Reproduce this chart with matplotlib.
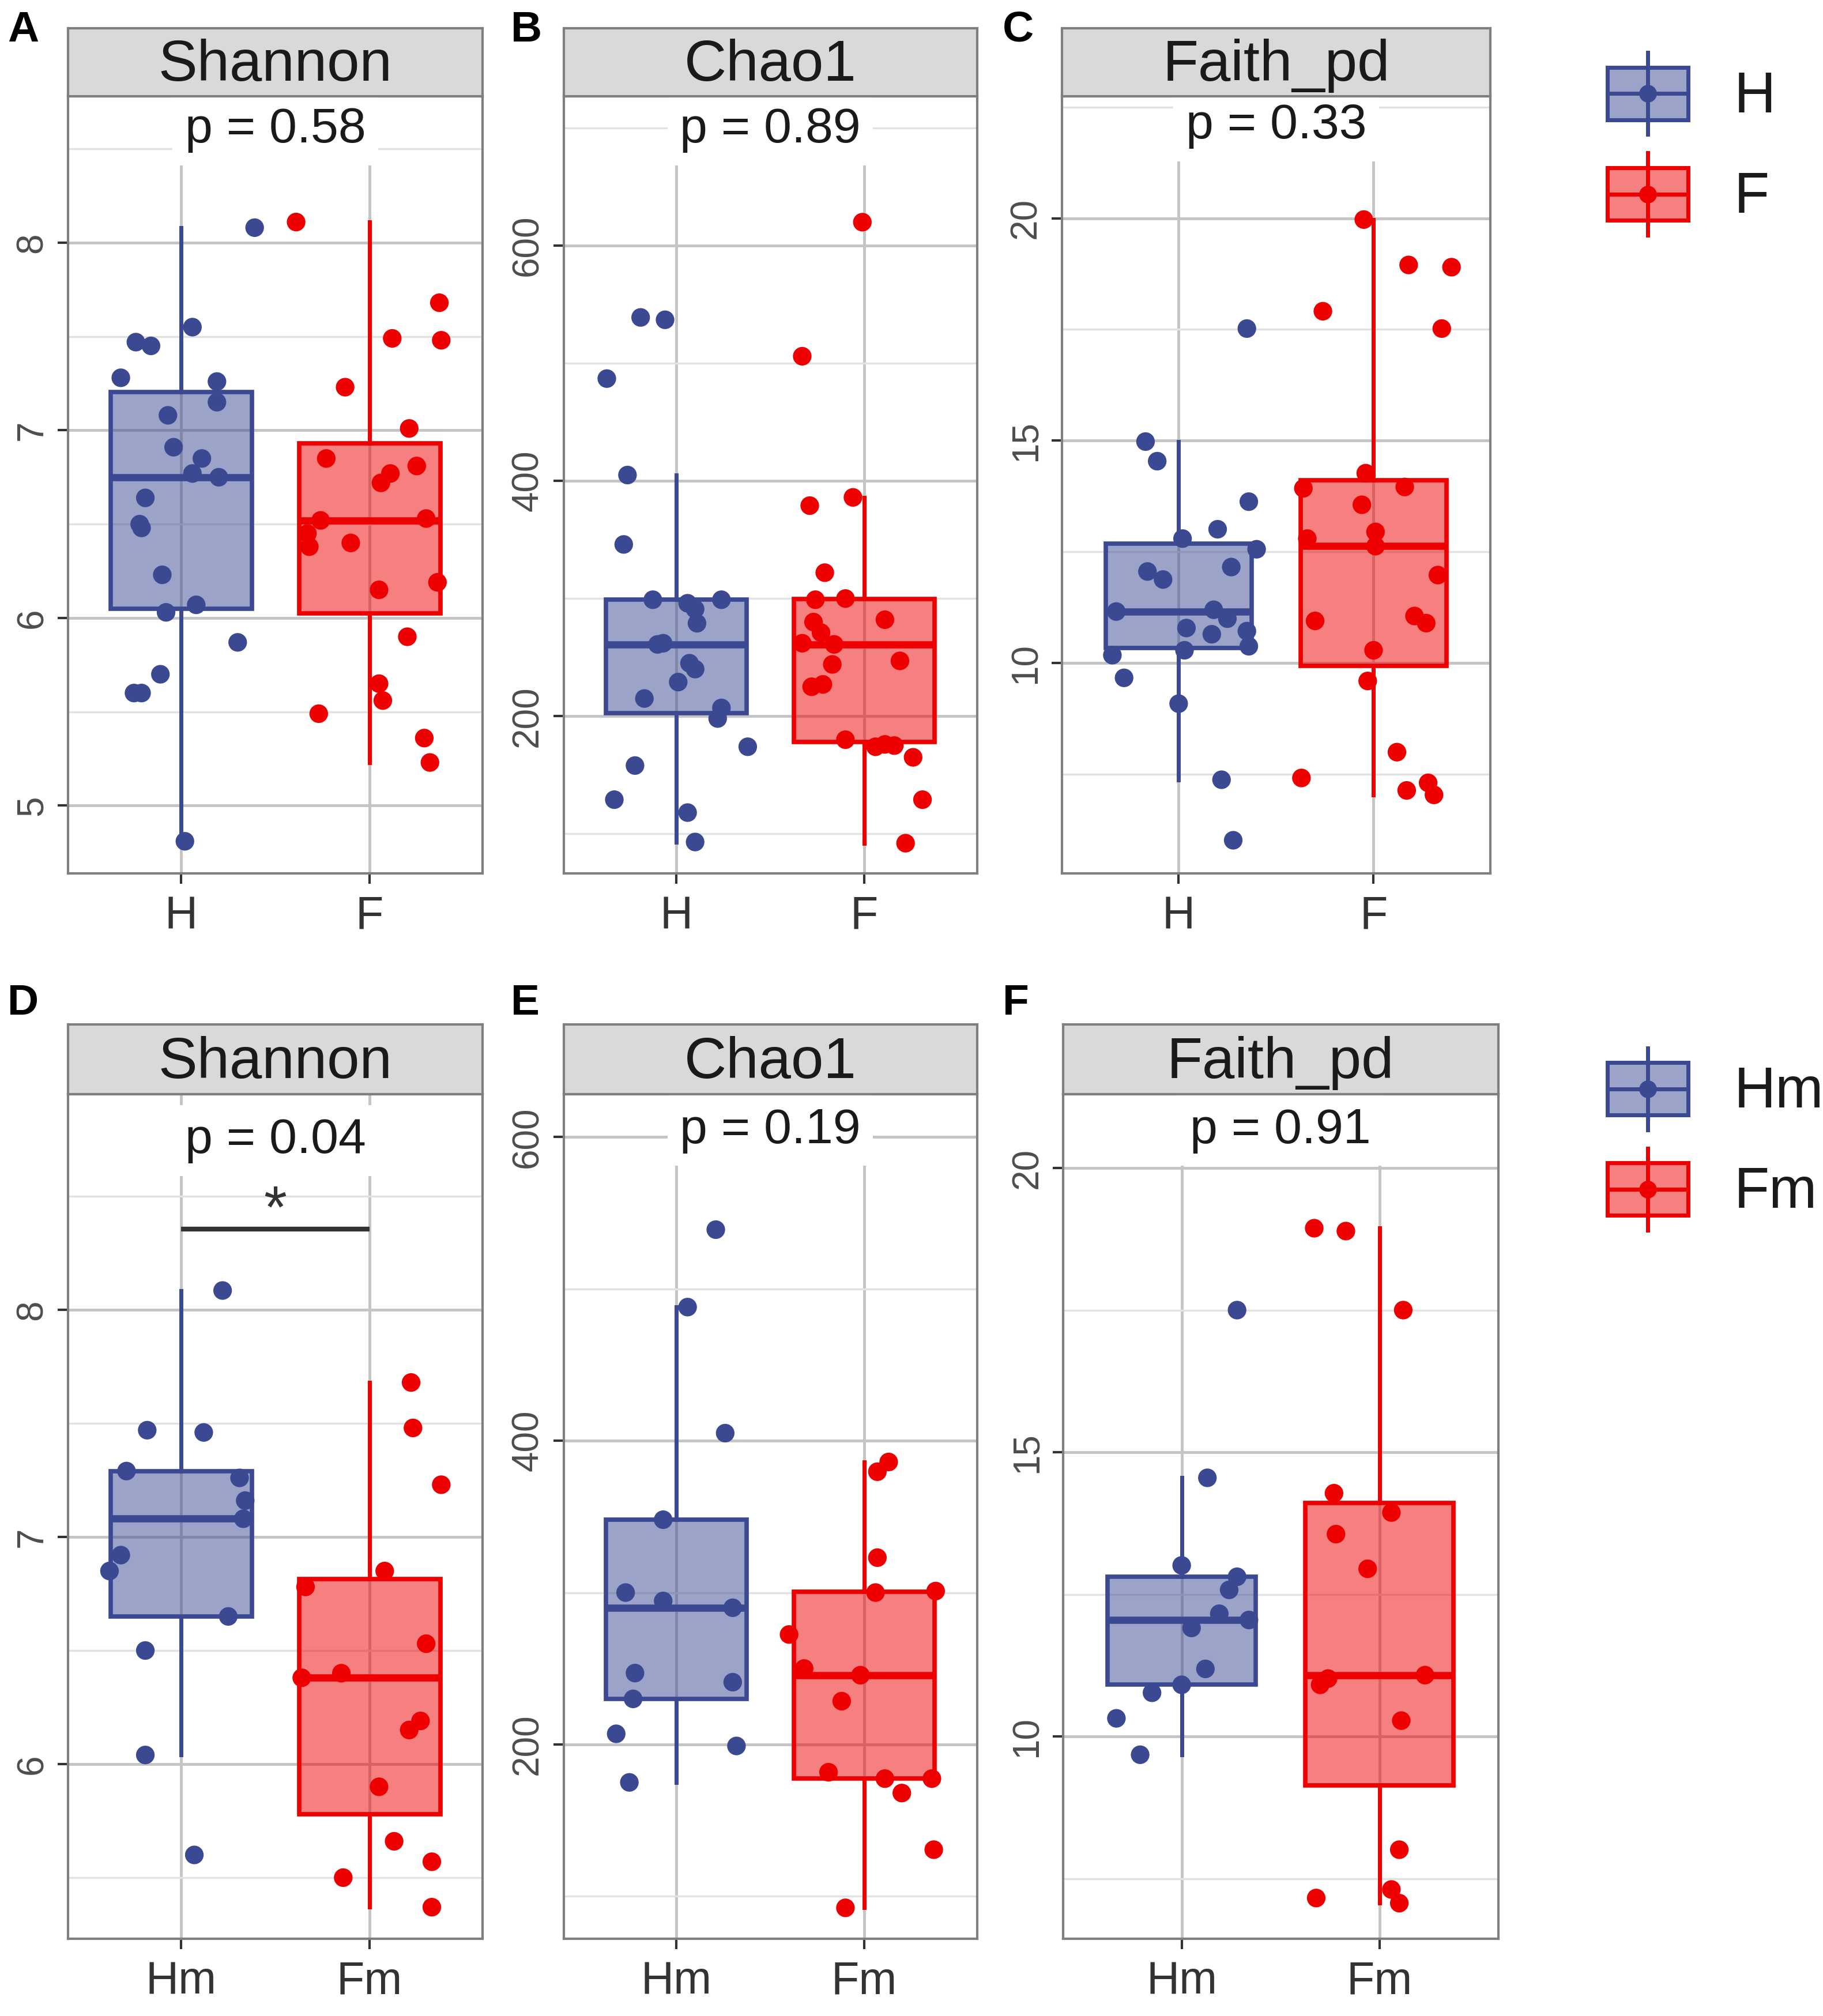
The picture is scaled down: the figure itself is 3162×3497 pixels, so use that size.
import numpy as np
import matplotlib
matplotlib.use('Agg')
import matplotlib.pyplot as plt
from matplotlib.patches import Rectangle, Patch
from matplotlib.lines import Line2D
from matplotlib.legend_handler import HandlerBase
from matplotlib.colors import to_rgba
import matplotlib.transforms as mtransforms

plt.rcParams['font.family'] = ['Liberation Sans', 'DejaVu Sans']

# ---------------- data ----------------
groups_top = ["H", "F"]
groups_bot = ["Hm", "Fm"]
metrics = ["Shannon", "Chao1", "Faith_pd"]
p_top = ["p = 0.58", "p = 0.89", "p = 0.33"]
p_bot = ["p = 0.04", "p = 0.19", "p = 0.91"]
panel_letters = ["A", "B", "C", "D", "E", "F"]

shannon_H = [8.08, 7.55, 7.47, 7.45, 7.28, 7.26, 7.15, 7.08, 6.91, 6.85, 6.77, 6.75,
             6.64, 6.50, 6.48, 6.23, 6.07, 6.03, 5.87, 5.70, 5.60, 5.60, 4.81]
shannon_H_jit = [0.39, 0.06, -0.24, -0.16, -0.32, 0.19, 0.19, -0.07, -0.04, 0.11, 0.06, 0.20,
                 -0.19, -0.22, -0.21, -0.10, 0.08, -0.08, 0.30, -0.11, -0.25, -0.21, 0.02]
shannon_F = [8.11, 7.68, 7.49, 7.48, 7.23, 7.01, 6.85, 6.81, 6.77, 6.72, 6.53, 6.52,
             6.45, 6.40, 6.38, 6.19, 6.15, 5.90, 5.65, 5.56, 5.49, 5.36, 5.23]
shannon_F_jit = [-0.39, 0.37, 0.12, 0.38, -0.13, 0.21, -0.23, 0.25, 0.11, 0.06, 0.30, -0.26,
                 -0.33, -0.10, -0.32, 0.36, 0.05, 0.20, 0.05, 0.07, -0.27, 0.29, 0.32]

chao1_H = [539, 537, 487, 405, 346, 299, 296, 291, 279, 299, 261, 262,
           245, 240, 229, 215, 207, 198, 174, 158, 129, 118, 93]
chao1_H_jit = [-0.19, -0.06, -0.37, -0.26, -0.28, -0.125, 0.06, 0.10, 0.11, 0.24, -0.10, -0.07,
               0.07, 0.10, 0.01, -0.17, 0.24, 0.22, 0.38, -0.22, -0.33, 0.06, 0.10]
chao1_F = [620, 506, 386, 379, 322, 299, 300, 282, 280, 271, 262, 261,
           247, 244, 225, 227, 180, 174, 175, 176, 165, 129, 92]
chao1_F_jit = [-0.01, -0.33, -0.06, -0.29, -0.21, -0.26, -0.10, 0.11, -0.27, -0.23, -0.33, -0.16,
               0.19, -0.17, -0.28, -0.22, -0.10, 0.06, 0.16, 0.11, 0.26, 0.31, 0.22]

faith_H = [17.52, 14.98, 14.54, 13.63, 13.01, 12.80, 12.56, 12.16, 12.06, 11.88, 11.16, 11.20,
           10.79, 11.00, 10.65, 10.72, 10.38, 10.29, 10.18, 9.67, 9.09, 7.38, 6.02]
faith_H_jit = [0.35, -0.17, -0.11, 0.36, 0.20, 0.02, 0.40, 0.27, -0.16, -0.08, -0.32, 0.18,
               0.04, 0.25, 0.17, 0.35, 0.36, 0.03, -0.34, -0.28, 0.0, 0.22, 0.28]
faith_F = [19.97, 18.95, 18.90, 17.91, 17.52, 14.27, 13.93, 13.96, 13.56, 12.95, 12.80, 12.63,
           11.98, 10.95, 11.06, 10.90, 10.29, 9.60, 8.00, 7.42, 7.14, 7.31, 7.04]
faith_F_jit = [-0.05, 0.18, 0.40, -0.26, 0.35, -0.04, -0.36, 0.16, -0.06, 0.01, -0.34, 0.01,
               0.33, -0.30, 0.21, 0.27, 0.0, -0.03, 0.12, -0.37, 0.17, 0.28, 0.31]

shannon_Hm = [8.085, 7.47, 7.46, 7.29, 7.26, 7.16, 7.08, 6.92, 6.85, 6.65, 6.50, 6.04, 5.60]
shannon_Hm_jit = [0.22, -0.18, 0.12, -0.29, 0.31, 0.34, 0.33, -0.32, -0.38, 0.25, -0.19, -0.19, 0.07]
shannon_Fm = [7.68, 7.48, 7.23, 6.85, 6.78, 6.53, 6.38, 6.40, 6.19, 6.15, 5.90, 5.66, 5.57, 5.50, 5.37]
shannon_Fm_jit = [0.22, 0.23, 0.38, 0.08, -0.34, 0.30, -0.36, -0.15, 0.27, 0.21, 0.05, 0.13, 0.33, -0.14, 0.33]

chao1_Hm = [539, 488, 405, 348, 300, 294.5, 290, 247, 241, 230, 207, 199, 175]
chao1_Hm_jit = [0.21, 0.06, 0.26, -0.07, -0.27, -0.07, 0.30, -0.22, 0.30, -0.23, -0.32, 0.32, -0.25]
chao1_Fm = [386, 379.6, 323, 300, 301, 272.4, 250, 245.6, 228.5, 181.7, 177.5, 177.5, 168, 130.7, 92.4]
chao1_Fm_jit = [0.13, 0.07, 0.07, 0.06, 0.38, -0.40, -0.32, -0.02, -0.12, -0.19, 0.11, 0.36, 0.20, 0.37, -0.10]

faith_Hm = [17.5, 14.55, 13.01, 12.81, 12.58, 12.16, 12.05, 11.91, 11.19, 10.91, 10.77, 10.32, 9.68]
faith_Hm_jit = [0.28, 0.13, 0.0, 0.28, 0.24, 0.19, 0.34, 0.05, 0.12, 0.0, -0.15, -0.33, -0.21]
faith_Fm = [18.94, 18.89, 17.5, 14.28, 13.94, 13.56, 12.95, 11.08, 11.02, 10.91, 10.28, 8.01, 7.31, 7.16, 7.07]
faith_Fm_jit = [-0.33, -0.17, 0.12, -0.23, 0.06, -0.22, -0.06, 0.23, -0.26, -0.30, 0.11, 0.10, 0.06, -0.32, 0.10]

shannon_ticks = [5, 6, 7, 8]
chao1_ticks = [200, 400, 600]
faith_ticks = [10, 15, 20]

# significance bar (panel D)
sig_label = "*"
sig_y = 8.356

# ---------------- style ----------------
BLUE = '#3B4992'
RED = '#EE0000'
COLORS = [BLUE, RED]
W, H = 1420.0, 1570.0


def rect(x0, x1, y0, y1):
    return [x0 / W, 1 - y1 / H, (x1 - x0) / W, (y1 - y0) / H]


fig = plt.figure(figsize=(31.62, 34.97), dpi=100)

panels = [
    dict(metric=0, groups=groups_top, p=p_top[0], data=[shannon_H, shannon_F],
         jit=[shannon_H_jit, shannon_F_jit], ticks=shannon_ticks, ylim=(4.64, 8.78),
         box=(53, 376, 75, 680), strip=(22, 75), py=0.957),
    dict(metric=1, groups=groups_top, p=p_top[1], data=[chao1_H, chao1_F],
         jit=[chao1_H_jit, chao1_F_jit], ticks=chao1_ticks, ylim=(66.5, 727),
         box=(439, 761, 75, 680), strip=(22, 75), py=0.957),
    dict(metric=2, groups=groups_top, p=p_top[2], data=[faith_H, faith_F],
         jit=[faith_H_jit, faith_F_jit], ticks=faith_ticks, ylim=(5.28, 22.74),
         box=(827, 1161, 75, 680), strip=(22, 75), py=0.962),
    dict(metric=0, groups=groups_bot, p=p_bot[0], data=[shannon_Hm, shannon_Fm],
         jit=[shannon_Hm_jit, shannon_Fm_jit], ticks=shannon_ticks, ylim=(5.23, 8.95),
         box=(53, 376, 852, 1510), strip=(798, 852), py=0.945),
    dict(metric=1, groups=groups_bot, p=p_bot[1], data=[chao1_Hm, chao1_Fm],
         jit=[chao1_Hm_jit, chao1_Fm_jit], ticks=chao1_ticks, ylim=(71.9, 628.3),
         box=(439, 761, 852, 1510), strip=(798, 852), py=0.957),
    dict(metric=2, groups=groups_bot, p=p_bot[2], data=[faith_Hm, faith_Fm],
         jit=[faith_Hm_jit, faith_Fm_jit], ticks=faith_ticks, ylim=(6.44, 21.30),
         box=(828, 1167, 852, 1510), strip=(798, 852), py=0.957),
]

BORDER = '#7F7F7F'
for i, pnl in enumerate(panels):
    x0, x1, y0, y1 = pnl['box']
    ax = fig.add_axes(rect(x0, x1, y0, y1))
    ax.set_facecolor('white')
    pos = [0, 1]
    bp = ax.boxplot(pnl['data'], positions=pos, widths=0.75, whis=1.5,
                    showfliers=False, showcaps=False, patch_artist=True,
                    manage_ticks=False)
    for k in range(2):
        c = COLORS[k]
        bp['boxes'][k].set(facecolor=to_rgba(c, 0.5), edgecolor=c, linewidth=5.5, zorder=3)
        bp['medians'][k].set(color=c, linewidth=9, zorder=4, solid_capstyle='butt')
        for w in bp['whiskers'][2 * k:2 * k + 2]:
            w.set(color=c, linewidth=5, zorder=2.5)
    for k in range(2):
        xs = np.array(pnl['jit'][k]) + pos[k]
        ax.scatter(xs, pnl['data'][k], s=540, color=COLORS[k], edgecolors='none', zorder=5)

    ax.set_xticks(pos)
    ax.set_xticklabels(pnl['groups'])
    t = pnl['ticks']
    ax.set_yticks(t)
    ax.set_yticklabels([str(v) for v in t])
    step = t[1] - t[0]
    minors = [t[0] - step / 2] + [v + step / 2 for v in t]
    ax.set_yticks(minors, minor=True)
    ax.set_xlim(-0.6, 1.6)
    ax.set_ylim(*pnl['ylim'])
    ax.set_axisbelow(True)
    ax.grid(which='major', axis='both', color='#C4C4C4', linewidth=3.5)
    ax.grid(which='minor', axis='y', color='#E2E2E2', linewidth=2.5)
    ax.tick_params(which='minor', length=0)
    ax.tick_params(axis='y', which='major', labelrotation=90, labelsize=46,
                   labelcolor='#4D4D4D', color='#333333', length=13, width=3, pad=10)
    ax.tick_params(axis='x', which='major', labelsize=57, labelcolor='#333333',
                   color='#333333', length=13, width=3, pad=14)
    for lab in ax.get_yticklabels():
        lab.set_va('center')
    for sp in ax.spines.values():
        sp.set_color(BORDER)
        sp.set_linewidth(3)

    # p-value label
    trans = mtransforms.blended_transform_factory(ax.transData, ax.transAxes)
    ax.text(0.5, pnl['py'], pnl['p'], transform=trans, ha='center', va='center',
            fontsize=62, color='#1A1A1A', zorder=6,
            bbox=dict(boxstyle='square,pad=0.25', fc='white', ec='none'))

    # significance bar for Shannon Hm vs Fm
    if i == 3:
        ax.plot(pos, [sig_y, sig_y], color='#333333', linewidth=6, zorder=6,
                solid_capstyle='butt')
        ax.text(0.5, sig_y + 0.005, sig_label, ha='center', va='baseline', fontsize=74,
                color='#333333', zorder=6)

    # strip
    s0, s1 = pnl['strip']
    sax = fig.add_axes(rect(x0, x1, s0, s1))
    sax.set_facecolor('#D9D9D9')
    sax.set_xticks([])
    sax.set_yticks([])
    for sp in sax.spines.values():
        sp.set_color(BORDER)
        sp.set_linewidth(3)
    sax.text(0.5, 0.45, metrics[pnl['metric']], ha='center', va='center',
             fontsize=73, color='#1A1A1A', transform=sax.transAxes)

    # panel letter
    lx = {0: 6, 1: 398, 2: 781}[i % 3]
    ly = 8 if i < 3 else 766
    fig.text(lx / W, 1 - ly / H, panel_letters[i], fontsize=54, fontweight='bold',
             ha='left', va='top', color='black')


# ---------------- legends ----------------
class BoxKeyHandler(HandlerBase):
    def create_artists(self, legend, orig_handle, xdescent, ydescent, width, height,
                       fontsize, trans):
        col = orig_handle.get_edgecolor()
        fc = orig_handle.get_facecolor()
        x0, y0 = -xdescent, -ydescent
        cx, cy = x0 + width / 2, y0 + height / 2
        whisk = Line2D([cx, cx], [y0, y0 + height], color=col, lw=5, transform=trans)
        box = Rectangle((x0, y0 + 0.18 * height), width, 0.64 * height,
                        facecolor=fc, edgecolor=col, lw=5, transform=trans)
        med = Line2D([x0, x0 + width], [cy, cy], color=col, lw=5, transform=trans)
        dot = Line2D([cx], [cy], marker='o', ms=22, color=col, mec='none', transform=trans)
        return [whisk, box, med, dot]


for groups, ytop in [(groups_top, 41), (groups_bot, 816)]:
    handles = [Patch(facecolor=to_rgba(c, 0.5), edgecolor=c) for c in COLORS]
    fig.legend(handles, groups, loc='upper left',
               bbox_to_anchor=(1252 / W, 1 - ytop / H), bbox_transform=fig.transFigure,
               frameon=False, borderpad=0, borderaxespad=0, fontsize=72,
               handlelength=1.4, handleheight=1.81, labelspacing=0.32, handletextpad=0.8,
               handler_map={Patch: BoxKeyHandler()}, labelcolor='#1A1A1A')

fig.savefig('out.png', dpi=100, facecolor='white')
